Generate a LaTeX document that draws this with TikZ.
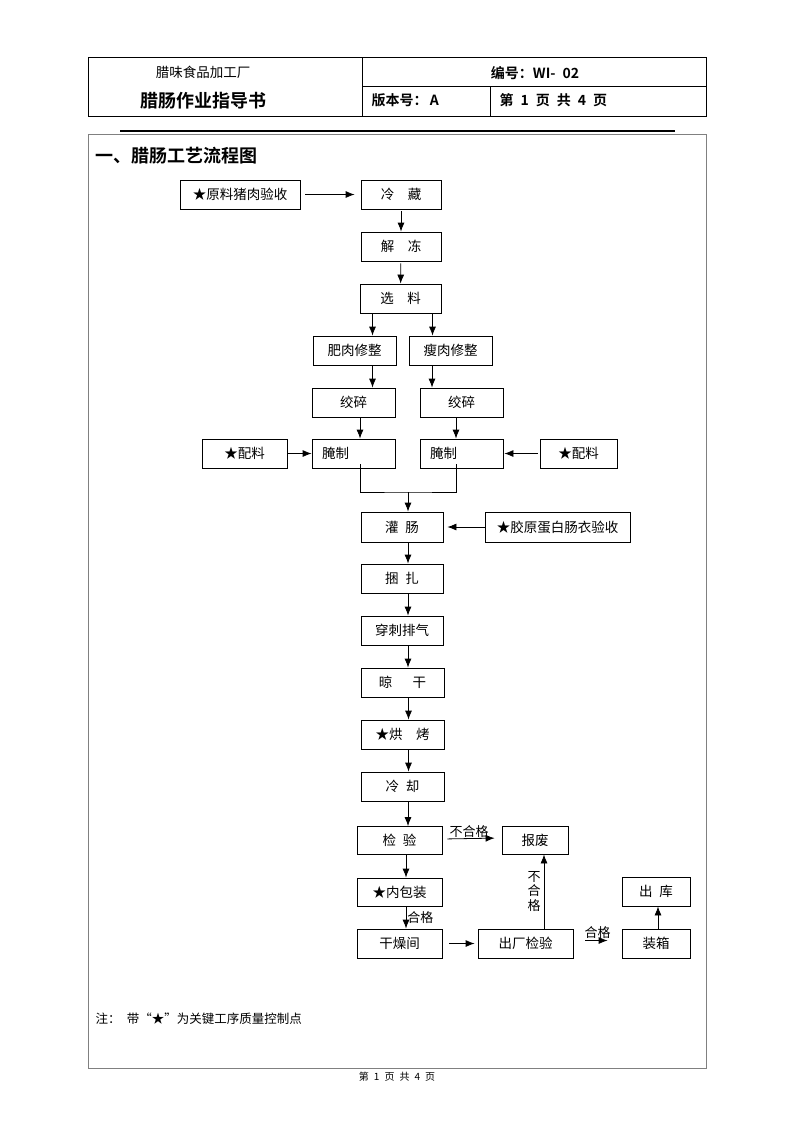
\documentclass[tikz,border=0pt]{standalone}
\usepackage{fontspec}
\setmainfont{Noto Sans CJK SC}[BoldFont={Noto Sans CJK SC Bold}]
\usetikzlibrary{arrows.meta}

\begin{document}
\begin{tikzpicture}[x=1pt, y=-1pt, font=\fontsize{13.5}{16}\selectfont,
	box/.style={draw, line width=0.8pt, inner sep=0pt, minimum height=29pt},
	cure/.style={box, text width=63pt, inner xsep=10pt, align=left, minimum width=83pt},
	arr/.style={line width=0.8pt, -{Latex[length=9pt, width=7pt]}},
	lbl/.style={inner sep=1pt, font=\fontsize{13}{14}\selectfont}]
	
	\useasboundingbox (0,0) rectangle (793,1122);
	\fill[white] (0,0) rectangle (793,1122);
	
	% header
	\draw[line width=0.8pt] (88,57) rectangle (706,116);
	\draw[line width=0.8pt] (362,57) -- (362,116) (362,86) -- (706,86) (490,86) -- (490,116);
	\node (factory) at (203,72) {腊味食品加工厂};
	\node[font=\bfseries\fontsize{18}{20}\selectfont] (doc) at (203,101) {腊肠作业指导书};
	\node[font=\bfseries\fontsize{14}{16}\selectfont] (code) at (535,73) {编号：WI-\enspace 02};
	\node[anchor=west, font=\bfseries\fontsize{14}{16}\selectfont] (rev) at (368,100) {版本号：\,A};
	\node[anchor=west, font=\bfseries\fontsize{14}{16}\selectfont] (page) at (496,100)
		{第\enspace 1\enspace 页\enspace 共\enspace 4\enspace 页};
	\draw[line width=1.3pt] (120,131) -- (675,131);
	\draw[gray, line width=0.8pt] (88,134) rectangle (706,1068);
	
	\node[anchor=west, font=\bfseries\fontsize{18}{20}\selectfont] (title) at (92,156) {一、腊肠工艺流程图};
	
	% process boxes
	\node[box, minimum width=120pt] (raw) at (240,194.5) {★原料猪肉验收};
	\node[box, minimum width=80pt] (cold) at (401,194.5) {冷\quad 藏};
	\node[box, minimum width=80pt] (thaw) at (401,246.5) {解\quad 冻};
	\node[box, minimum width=81pt] (pick) at (400.5,298.5) {选\quad 料};
	\node[box, minimum width=83pt] (fat) at (354.5,350.5) {肥肉修整};
	\node[box, minimum width=83pt] (lean) at (450.5,350.5) {瘦肉修整};
	\node[box, minimum width=83pt] (minceA) at (353.5,402.5) {绞碎};
	\node[box, minimum width=83pt] (minceB) at (461.5,402.5) {绞碎};
	\node[cure] (cureA) at (353.5,453.5) {腌制};
	\node[cure] (cureB) at (461.5,453.5) {腌制};
	\node[box, minimum width=85pt] (spiceA) at (244.5,453.5) {★配料};
	\node[box, minimum width=77pt] (spiceB) at (578.5,453.5) {★配料};
	\node[box, minimum width=82pt, minimum height=30pt] (stuff) at (402,527) {灌\enspace 肠};
	\node[box, minimum width=145pt, minimum height=30pt] (casing) at (557.5,527) {★胶原蛋白肠衣验收};
	\node[box, minimum width=82pt] (tie) at (402,578.5) {捆\enspace 扎};
	\node[box, minimum width=82pt] (pierce) at (402,630.5) {穿刺排气};
	\node[box, minimum width=83pt] (airdry) at (402.5,682.5) {晾\quad\enspace 干};
	\node[box, minimum width=83pt] (bake) at (402.5,734.5) {★烘\quad 烤};
	\node[box, minimum width=83pt] (cool) at (402.5,786.5) {冷\enspace 却};
	\node[box, minimum width=85pt, minimum height=28pt] (check) at (399.5,840.5) {检\enspace 验};
	\node[box, minimum width=66pt, minimum height=28pt] (scrap) at (535,840) {报废};
	\node[box, minimum width=85pt, minimum height=28pt] (pack) at (399.5,892) {★内包装};
	\node[box, minimum width=85pt] (dryroom) at (399.5,943.5) {干燥间};
	\node[box, minimum width=95pt] (final) at (525.5,943.5) {出厂检验};
	\node[box, minimum width=68pt] (boxing) at (656,943.5) {装箱};
	\node[box, minimum width=68pt] (store) at (656,891.5) {出\enspace 库};
	
	% connectors
	\draw[arr, shorten <=5pt, shorten >=6pt] (raw) -- (cold);
	\draw[arr, shorten <=2pt] (cold) -- (thaw);
	\draw[arr, shorten <=2pt] (thaw) -- (pick);
	\draw[arr] ([xshift=-28pt]pick.south) -- ([xshift=-28pt]pick.south |- fat.north);
	\draw[arr] ([xshift=32pt]pick.south) -- ([xshift=32pt]pick.south |- lean.north);
	\draw[arr] ([xshift=18pt]fat.south) -- ([xshift=18pt]fat.south |- minceA.north);
	\draw[arr] ([xshift=-18.5pt]lean.south) -- ([xshift=-18.5pt]lean.south |- minceB.north);
	\draw[arr] ([xshift=6.5pt]minceA.south) -- ([xshift=6.5pt]minceA.south |- cureA.north);
	\draw[arr] ([xshift=-5.5pt]minceB.south) -- ([xshift=-5.5pt]minceB.south |- cureB.north);
	\draw[arr, shorten <=1pt] (spiceA) -- (cureA);
	\draw[arr, shorten <=2pt, shorten >=1pt] (spiceB) -- (cureB);
	\coordinate (merge) at (408,492);
	\draw[line width=0.8pt] ([xshift=7pt, yshift=4pt]cureA.south) |- (merge) -| ([xshift=-5.5pt, yshift=4pt]cureB.south);
	\draw[arr] (merge) -- (merge |- stuff.north);
	\draw[arr, shorten >=4pt] (casing) -- (stuff);
	\foreach \a/\b in {stuff/tie, tie/pierce, pierce/airdry, airdry/bake, bake/cool}
		\draw[arr] ([xshift=6pt]\a.south) -- ([xshift=6pt]\a.south |- \b.north);
	\draw[arr] (cool.south -| 408,0) -- (408,0 |- check.north);
	\draw[arr] ([xshift=6.5pt]check.south) -- ([xshift=6.5pt]check.south |- pack.north);
	\draw[arr] ([xshift=6.5pt]pack.south) -- ([xshift=6.5pt]pack.south |- dryroom.north)
		node[lbl, midway, right] {合格};
	\draw[arr, shorten <=5pt, shorten >=7pt] ([yshift=1.5pt]check.east) -- ([yshift=2pt]scrap.west)
		node[lbl, midway, above, xshift=-3pt] {不合格};
	\draw[arr, shorten <=7pt, shorten >=3pt] (dryroom) -- (final);
	\draw[arr] ([xshift=18.5pt]final.north) -- ([xshift=18.5pt]final.north |- scrap.south)
		node[lbl, midway, left, xshift=-2pt, align=center, font=\fontsize{13}{14.5}\selectfont] {不\\合\\格};
	\draw[arr, shorten <=12pt, shorten >=14pt] ([yshift=3pt]final.east) -- ([yshift=3pt]boxing.west)
		node[lbl, midway, above, yshift=1pt] {合格};
	\draw[arr] ([xshift=2pt]boxing.north) -- ([xshift=2pt]store.south);
	
	\node[anchor=west, font=\fontsize{12.5}{14}\selectfont] (note) at (92,1019) {注：\enspace 带“★”为关键工序质量控制点};
	\node[font=\fontsize{10}{12}\selectfont] (pageno) at (397,1077) {第\enspace 1\enspace 页\enspace 共\enspace 4\enspace 页};
\end{tikzpicture}
\end{document}
